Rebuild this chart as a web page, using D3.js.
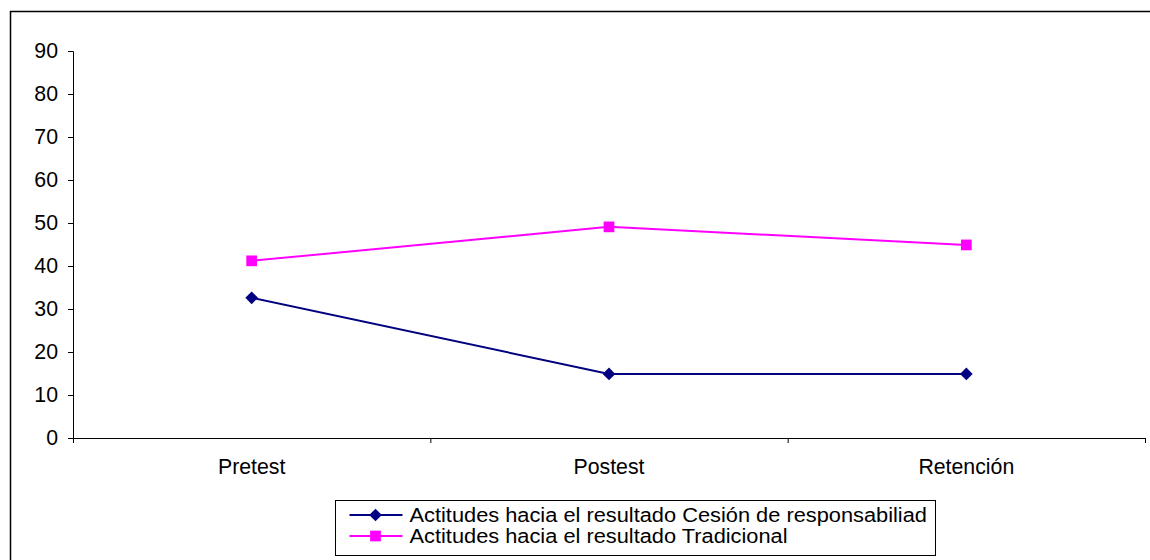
<!DOCTYPE html>
<html>
<head>
<meta charset="utf-8">
<script src="https://cdn.jsdelivr.net/npm/d3@7"></script>
<style>
  body { margin: 0; background: #fff; }
  svg text { font-family: "Liberation Sans", Arial, sans-serif; }
</style>
</head>
<body>
<div id="chart"></div>
<script>
const categories = ['Pretest', 'Postest', 'Retención'];
const cesionValues = [32.6, 14.9, 14.9];
const tradicionalValues = [41.2, 49.1, 44.9];
const seriesNames = [
  'Actitudes hacia el resultado Cesión de responsabiliad',
  'Actitudes hacia el resultado Tradicional'
];
const yTicks = [0, 10, 20, 30, 40, 50, 60, 70, 80, 90];

const width = 1150, height = 560;
const margin = {top: 51, right: 5, bottom: 122, left: 73};
const plotW = width - margin.left - margin.right;
const plotH = height - margin.top - margin.bottom;
const fontSize = 21.3;

const svg = d3.select('#chart')
  .append('svg')
  .attr('width', width)
  .attr('height', height);

// outer frame
svg.append('rect')
  .attr('x', 10.5).attr('y', 11.5)
  .attr('width', 1150).attr('height', 560)
  .attr('fill', 'none').attr('stroke', '#000').attr('stroke-width', 1.5);

const g = svg.append('g')
  .attr('transform', `translate(${margin.left},${margin.top})`);

const x = d3.scaleBand()
  .domain(categories)
  .range([0, plotW]);

const y = d3.scaleLinear()
  .domain([0, 90])
  .range([plotH, 0]);

// y axis
const yAxis = g.append('g')
  .call(d3.axisLeft(y).tickValues(yTicks).tickSize(5).tickPadding(10));
yAxis.select('.domain').attr('stroke', '#000');
yAxis.selectAll('.tick line').attr('stroke', '#000');
yAxis.selectAll('.tick text').attr('font-size', fontSize).attr('fill', '#000');

// x axis with ticks at band boundaries
const xAxis = g.append('g')
  .attr('transform', `translate(0,${plotH})`)
  .call(d3.axisBottom(x).tickSize(0).tickPadding(21));
xAxis.select('.domain').attr('stroke', '#000');
xAxis.selectAll('.tick text').attr('font-size', fontSize).attr('fill', '#000');
const boundaries = categories.map(c => x(c)).concat([plotW]);
xAxis.selectAll('.bound')
  .data(boundaries)
  .enter()
  .append('line')
  .attr('class', 'bound')
  .attr('x1', d => d + 0.5).attr('x2', d => d + 0.5)
  .attr('y1', 0).attr('y2', 5)
  .attr('stroke', '#000');

const cx = c => x(c) + x.bandwidth() / 2;

const series = [
  {name: seriesNames[0], values: cesionValues, color: '#000080', size: 80, rotate: 45},
  {name: seriesNames[1], values: tradicionalValues, color: '#ff00ff', size: 115, rotate: 0}
];

const line = d3.line()
  .x((d, i) => cx(categories[i]))
  .y(d => y(d));

series.forEach(s => {
  g.append('path')
    .datum(s.values)
    .attr('fill', 'none')
    .attr('stroke', s.color)
    .attr('stroke-width', 2)
    .attr('d', line);

  g.selectAll(null)
    .data(s.values)
    .enter()
    .append('path')
    .attr('d', d3.symbol().type(d3.symbolSquare).size(s.size))
    .attr('transform', (d, i) => `translate(${cx(categories[i])},${y(d)}) rotate(${s.rotate})`)
    .attr('fill', s.color);
});

// legend
const legend = svg.append('g').attr('transform', 'translate(335.5,500.5)');
legend.append('rect')
  .attr('width', 600).attr('height', 55)
  .attr('fill', '#fff').attr('stroke', '#000');

series.forEach((s, i) => {
  const ly = 14.5 + i * 21;
  legend.append('line')
    .attr('x1', 14).attr('x2', 67)
    .attr('y1', ly).attr('y2', ly)
    .attr('stroke', s.color).attr('stroke-width', 2);
  legend.append('path')
    .attr('d', d3.symbol().type(d3.symbolSquare).size(s.size))
    .attr('transform', `translate(40,${ly}) rotate(${s.rotate})`)
    .attr('fill', s.color);
  const t = legend.append('text')
    .attr('x', 74).attr('y', ly)
    .attr('dy', '0.35em')
    .attr('font-size', 20)
    .attr('fill', '#000')
    .text(s.name);
  // the original font is a little wider than Liberation Sans at this height
  const w = t.node().getComputedTextLength();
  t.attr('textLength', w * 1.09).attr('lengthAdjust', 'spacingAndGlyphs');
});
</script>
</body>
</html>
